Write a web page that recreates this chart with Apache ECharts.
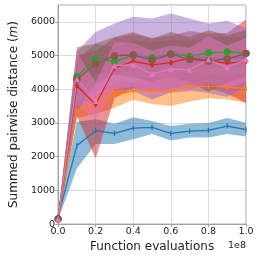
<!DOCTYPE html>
<html><head><meta charset="utf-8">
<script src="https://cdn.jsdelivr.net/npm/echarts@6/dist/echarts.min.js"></script>
<style>html,body{margin:0;padding:0;background:#fff}#c{width:258px;height:258px}</style>
</head><body><div id="c"></div>
<script>
const xValues = [0, 1e7, 2e7, 3e7, 4e7, 5e7, 6e7, 7e7, 8e7, 9e7, 1e8];
const xTickLabels = ['0.0', '0.2', '0.4', '0.6', '0.8', '1.0'];
const yTicks = [0, 1000, 2000, 3000, 4000, 5000, 6000];

const blueMean = [220, 2330, 2770, 2690, 2850, 2870, 2690, 2760, 2780, 2910, 2800];
const blueLow  = [130, 1650, 2380, 2380, 2520, 2670, 2480, 2570, 2570, 2670, 2600];
const blueHigh = [310, 3040, 3110, 2980, 3170, 3060, 2910, 2980, 3000, 3150, 3010];

const orangeMean = [150, 3390, 3560, 3830, 3950, 3960, 3950, 4075, 4095, 4065, 4025];
const orangeLow  = [100, 3150, 3270, 3450, 3690, 3560, 3500, 3640, 3730, 3700, 3600];
const orangeHigh = [200, 3630, 3850, 4210, 4210, 4360, 4400, 4510, 4460, 4430, 4450];

const greenMean = [150, 4380, 4900, 4830, 5000, 4940, 5060, 4980, 5080, 5110, 5070];
const greenLow  = [100, 3880, 4450, 4430, 4550, 4490, 4660, 4530, 4630, 4660, 4620];
const greenHigh = [200, 4880, 5350, 5230, 5450, 5390, 5460, 5430, 5530, 5560, 5520];

const redMean = [150, 4105, 3545, 4630, 4830, 4725, 4790, 4930, 4850, 4770, 4830];
const redLow  = [90, 3205, 1945, 3730, 4030, 3925, 3990, 4130, 4050, 3870, 3590];
const redHigh = [210, 5005, 5145, 5530, 5630, 5525, 5590, 5730, 5650, 5670, 6070];

const purpleMean = [150, 4250, 4800, 5000, 5050, 4900, 5080, 5030, 4920, 4900, 4950];
const purpleLow  = [70, 3370, 3900, 4050, 3950, 3700, 3910, 3960, 3890, 3770, 4100];
const purpleHigh = [230, 5130, 5700, 5950, 6150, 6100, 6250, 6100, 5950, 6030, 5800];

const brownMean = [150, 4300, 4760, 4990, 5020, 4860, 5040, 4880, 4840, 4900, 5060];
const brownLow  = [90, 3350, 4160, 4430, 4340, 4220, 4380, 4210, 3930, 4200, 4370];
const brownHigh = [210, 5250, 5360, 5550, 5700, 5500, 5700, 5550, 5750, 5600, 5750];

const pinkMean = [150, 4300, 3650, 4700, 4730, 4450, 4600, 4580, 4880, 4650, 4880];
const pinkLow  = [90, 3500, 3100, 4000, 4080, 3750, 3900, 3930, 4180, 4000, 4230];
const pinkHigh = [210, 5100, 4200, 5400, 5380, 5150, 5300, 5230, 5580, 5300, 5530];

const groups = [
  {name: 'blue',   color: '#1f77b4', mean: blueMean,   low: blueLow,   high: blueHigh,   symbol: 'rect', size: [1.3, 5]},
  {name: 'orange', color: '#ff7f0e', mean: orangeMean, low: orangeLow, high: orangeHigh, symbol: 'rect', size: [1.3, 5]},
  {name: 'green',  color: '#2ca02c', mean: greenMean,  low: greenLow,  high: greenHigh,  symbol: 'circle', size: 7},
  {name: 'red',    color: '#d62728', mean: redMean,    low: redLow,    high: redHigh,    symbol: 'diamond', size: [4, 7]},
  {name: 'purple', color: '#9467bd', mean: purpleMean, low: purpleLow, high: purpleHigh, symbol: 'none', size: 0},
  {name: 'brown',  color: '#8c564b', mean: brownMean,  low: brownLow,  high: brownHigh,  symbol: 'circle', size: 7.5},
  {name: 'pink',   color: '#e377c2', mean: pinkMean,   low: pinkLow,   high: pinkHigh,   symbol: 'triangle', size: 6}
];

const series = [];
groups.forEach(g => {
  series.push({
    type: 'custom', silent: true, animation: false,
    data: xValues.map((x, i) => [x, g.low[i], g.high[i]]),
    encode: {x: 0, y: [1, 2]},
    renderItem: (params, api) => {
      if (params.dataIndex !== 0) return null;
      const pts = [];
      for (let i = 0; i < xValues.length; i++) pts.push(api.coord([xValues[i], g.high[i]]));
      for (let i = xValues.length - 1; i >= 0; i--) pts.push(api.coord([xValues[i], g.low[i]]));
      return {
        type: 'polygon',
        shape: {points: pts},
        style: {fill: g.color, opacity: 0.5, stroke: null}
      };
    }
  });
  series.push({
    type: 'line', symbol: g.symbol, symbolSize: g.size, showSymbol: g.symbol !== 'none',
    data: xValues.map((x, i) => [x, g.mean[i]]),
    lineStyle: {color: g.color, width: 1.3},
    itemStyle: {color: g.color},
    animation: false
  });
});

const chart = echarts.init(document.getElementById('c'), null, {renderer: 'canvas'});
chart.setOption({
  animation: false,
  grid: {left: 46, right: 12, top: 5, bottom: 29.5, show: true, borderColor: '#a0a0a0', borderWidth: 1, backgroundColor: 'transparent'},
  xAxis: {
    type: 'value', min: 0, max: 1e8, interval: 2e7,
    name: 'Function evaluations', nameLocation: 'middle', nameGap: 14,
    nameTextStyle: {fontFamily: 'DejaVu Sans', fontSize: 12, color: '#222'},
    axisLine: {show: true, lineStyle: {color: '#a0a0a0'}},
    axisTick: {show: true, length: 3, lineStyle: {color: '#a0a0a0'}},
    axisLabel: {fontFamily: 'DejaVu Sans', fontSize: 9.5, color: '#222', margin: 2,
      formatter: v => xTickLabels[Math.round(v / 2e7)]},
    splitLine: {show: true, lineStyle: {color: '#dcdcdc', width: 1}}
  },
  yAxis: {
    type: 'value', min: 0, max: 6500, interval: 1000,
    name: '{a|Summed pairwise distance (}{b|m}{a|)}', nameLocation: 'middle', nameGap: 29,
    nameTextStyle: {rich: {
      a: {fontFamily: 'DejaVu Sans', fontSize: 12, color: '#222'},
      b: {fontFamily: 'DejaVu Sans', fontSize: 12, fontStyle: 'italic', color: '#222'}
    }},
    axisLine: {show: true, lineStyle: {color: '#a0a0a0'}},
    axisTick: {show: true, length: 3, lineStyle: {color: '#a0a0a0'}},
    axisLabel: {fontFamily: 'DejaVu Sans', fontSize: 9.5, color: '#222', margin: 3, showMaxLabel: false,
      formatter: v => (yTicks.indexOf(v) >= 0 ? String(v) : '')},
    splitLine: {show: true, lineStyle: {color: '#dcdcdc', width: 1}}
  },
  graphic: [{
    type: 'text', right: 12, top: 241,
    style: {text: '1e8', fontFamily: 'DejaVu Sans', fontSize: 9.5, fill: '#222'}
  }],
  series: series
});
</script>
</body></html>
